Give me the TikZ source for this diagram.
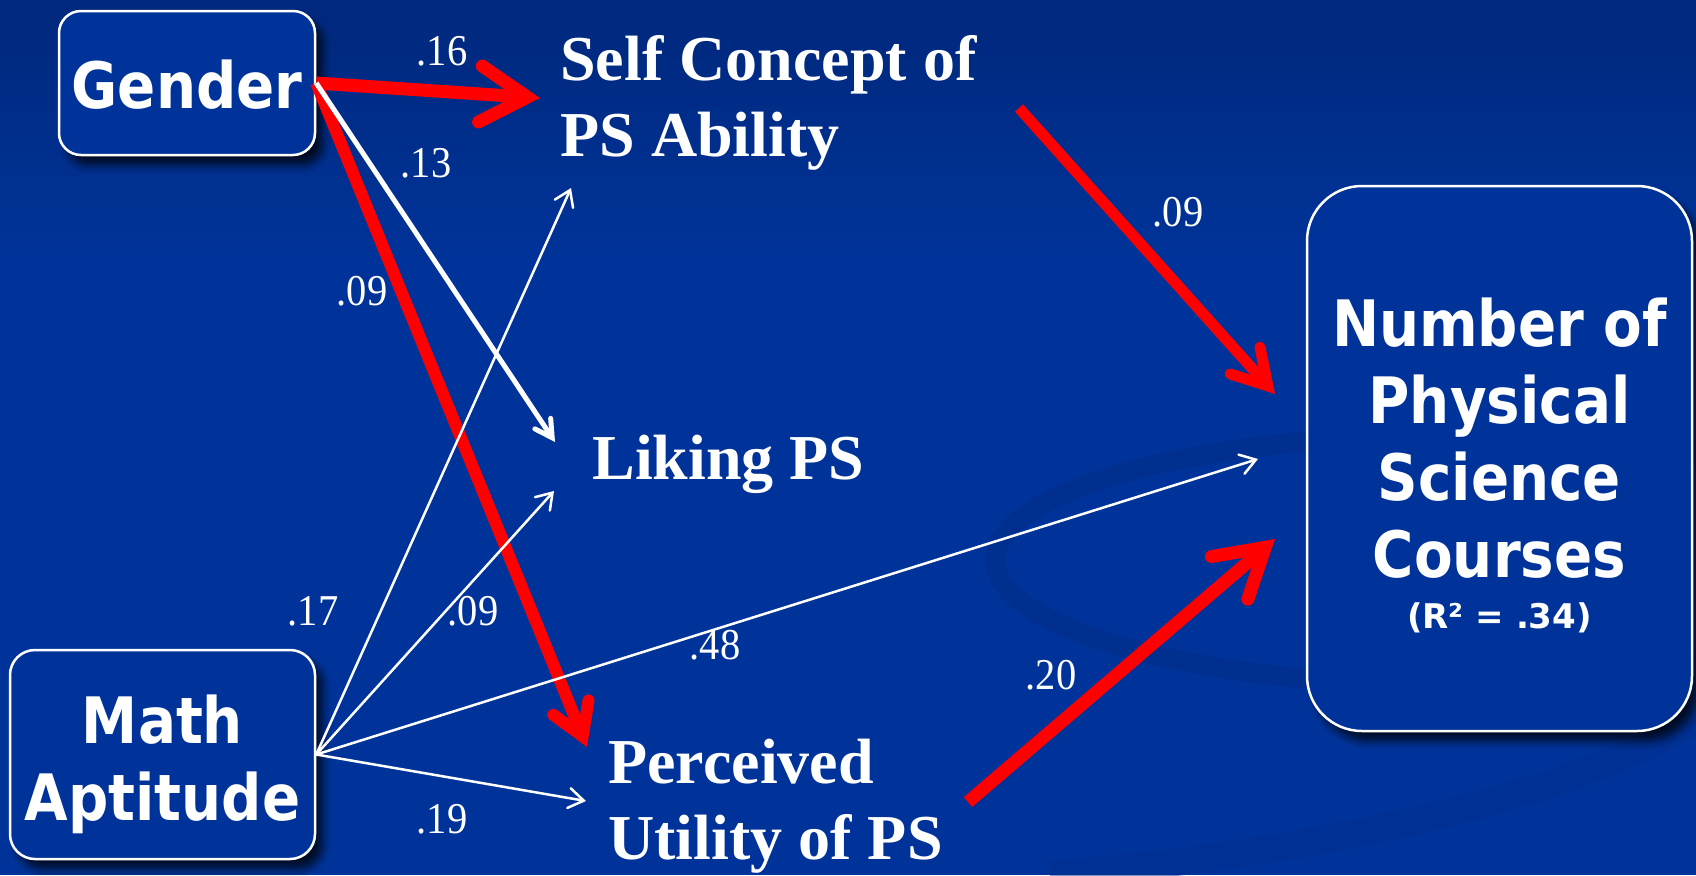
\documentclass[tikz,border=0pt]{standalone}
\usepackage{fontspec}
\usetikzlibrary{arrows.meta,shadows.blur}
\setmainfont{Liberation Serif}
\newfontfamily\boxfont{DejaVu Sans}[FakeStretch=0.88]
\newfontfamily\rfont{DejaVu Sans}
\newfontfamily\numfont{Liberation Serif}[FakeStretch=0.92]

\definecolor{bgblue}{RGB}{0,51,153}
\definecolor{bgtop}{RGB}{0,40,124}
\definecolor{swoosh}{RGB}{0,46,142}
\definecolor{pathred}{RGB}{255,0,0}

% Open arrow head: two stroked barbs, sharp mitred point, round barb ends
\pgfdeclarearrow{
  name = OpenHead,
  parameters = {\the\pgfarrowlength,\the\pgfarrowwidth,\the\pgfarrowlinewidth},
  setup code = {
    \pgfmathsetlengthmacro\openheadback{0.5*\pgfarrowlinewidth*veclen(\pgfarrowlength,0.5*\pgfarrowwidth)/(0.5*\pgfarrowwidth)}
    \pgfmathsetlengthmacro\openheadline{-2*\openheadback}
    \pgfmathsetlengthmacro\openheadbackend{-\openheadback-\pgfarrowlength}
    \pgfarrowssettipend{0pt}
    \pgfarrowssetlineend{\openheadline}
    \pgfarrowssetbackend{\openheadbackend}
    \pgfarrowssetvisualbackend{\openheadbackend}
    \pgfarrowsupperhullpoint{\openheadbackend}{.5\pgfarrowwidth}
    \pgfarrowshullpoint{0pt}{0pt}
    \pgfarrowssavethe\pgfarrowlength
    \pgfarrowssavethe\pgfarrowwidth
    \pgfarrowssavethe\pgfarrowlinewidth
    \pgfarrowssave\openheadback
  },
  drawing code = {
    \pgfsetdash{}{0pt}
    \pgfsetroundcap
    \pgfsetmiterjoin
    \pgfsetlinewidth{\pgfarrowlinewidth}
    \pgfpathmoveto{\pgfpoint{-\openheadback-\pgfarrowlength}{.5\pgfarrowwidth}}
    \pgfpathlineto{\pgfpoint{-\openheadback}{0pt}}
    \pgfpathlineto{\pgfpoint{-\openheadback-\pgfarrowlength}{-.5\pgfarrowwidth}}
    \pgfusepathqstroke
  },
  defaults = {length = 10pt, width = 10pt, line width = +0pt 1 1}
}

\tikzset{
  box/.style={draw=white, line width=1.25pt, fill=bgblue, text=white,
    align=center, inner sep=0pt, text depth=0pt,
    font=\boxfont\bfseries\fontsize{32}{38.5}\selectfont,
    blur shadow={shadow xshift=4pt, shadow yshift=-5pt,
      shadow blur radius=4pt, shadow opacity=75}},
  concept/.style={text=white, align=left, inner sep=0pt,
    font=\bfseries\fontsize{32}{38}\selectfont},
  coef/.style={text=white, inner sep=0pt,
    font=\numfont\fontsize{22}{22}\selectfont},
  bigred/.style={draw=pathred, line width=6.5pt,
    -{OpenHead[length=23.5pt, width=28pt]}},
  selfred/.style={draw=pathred, line width=5.5pt,
    -{OpenHead[length=17pt, width=20pt]}},
  midred/.style={draw=pathred, line width=6pt,
    -{OpenHead[length=15.5pt, width=19pt]}},
  boldwhite/.style={draw=white, line width=2.5pt,
    -{OpenHead[length=8.5pt, width=9.5pt]}},
  thinwhite/.style={draw=white, line width=1.25pt,
    -{OpenHead[length=7.5pt, width=10pt]}},
}

\begin{document}
\begin{tikzpicture}[x=0.5pt, y=-0.5pt]
\useasboundingbox (0,0) rectangle (1696,875);
\clip (0,0) rectangle (1696,875);

% background
\fill[bgblue] (0,0) rectangle (1696,875);
\shade[top color=bgtop, bottom color=bgblue] (0,0) rectangle (1696,260);
\draw[swoosh, line width=10pt, opacity=0.75] (1450,560) ellipse [x radius=455, y radius=125];
\draw[swoosh, line width=14pt, opacity=0.5]
  (1050,875) .. controls (1350,850) and (1580,790) .. (1696,720);

% boxes
\node[box, rounded corners=11pt, minimum width=128pt, minimum height=72pt,
  text height=25pt] (gender) at (187,83) {Gender};
\node[box, rounded corners=12.5pt, minimum width=152.5pt, minimum height=104.5pt,
  text height=65.5pt] (math) at (162.5,754.5) {Math\\Aptitude};
\node[box, rounded corners=27.5pt, minimum width=192.5pt, minimum height=272.5pt,
  text height=169.5pt] (courses) at (1499.5,458.5)
  {Number of\\Physical\\Science\\Courses\\[-13pt]{\rfont\bfseries\fontsize{17}{20}\selectfont (R² = .34)}};

% mediating constructs (anchored at the baseline of the last line)
\node[concept, anchor=base west] (self) at (560,156) {Self Concept of\\PS Ability};
\node[concept, anchor=base west] (liking) at (592,479) {Liking PS};
\node[concept, anchor=base west] (utility) at (608,859) {Perceived\\Utility of PS};

% arrow end points
\coordinate (tipSelf) at (540,98);
\coordinate (tipUtilG) at (587,747);
\coordinate (tipLike) at (555,442);
\coordinate (selfOut) at (1019,108);
\coordinate (tipNumA) at (1275,394);
\coordinate (utilOut) at (968,802);
\coordinate (tipNumB) at (1275,539);
\coordinate (tipSelfM) at (571,188);
\coordinate (tipLikeM) at (554,491);
\coordinate (tipNumM) at (1258,459);
\coordinate (tipUtilM) at (586,801);

% significant paths
\draw[midred] (gender.east) -- (tipUtilG);
\draw[bigred] (gender.east) -- (tipSelf);
\draw[selfred] (selfOut) -- (tipNumA);
\draw[bigred] (utilOut) -- (tipNumB);

% other paths
\draw[boldwhite] (gender.east) -- (tipLike);
\draw[thinwhite] (math.east) -- (tipSelfM);
\draw[thinwhite] (math.east) -- (tipLikeM);
\draw[thinwhite] (math.east) -- (tipNumM);
\draw[thinwhite] (math.east) -- (tipUtilM);

% path coefficients
\node[coef, anchor=base] (c16) at (442,65) {.16};
\node[coef, anchor=base] (c13) at (426,177) {.13};
\node[coef, anchor=base] (c09a) at (362,305) {.09};
\node[coef, anchor=base] (c09b) at (1178,226) {.09};
\node[coef, anchor=base] (c17) at (313,625) {.17};
\node[coef, anchor=base] (c09c) at (473,625) {.09};
\node[coef, anchor=base] (c48) at (715,659) {.48};
\node[coef, anchor=base] (c19) at (442,833) {.19};
\node[coef, anchor=base] (c20) at (1051,689) {.20};
\end{tikzpicture}
\end{document}
